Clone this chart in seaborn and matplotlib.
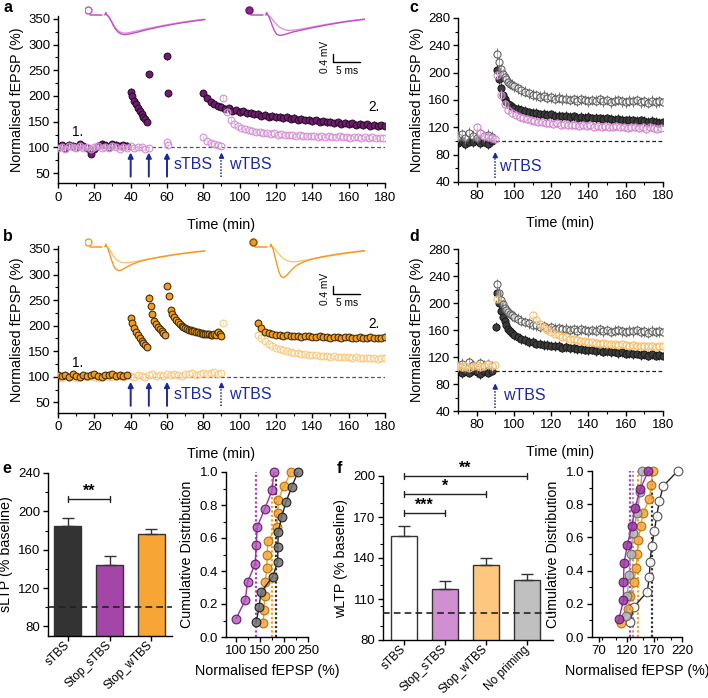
import numpy as np
import pandas as pd
import matplotlib
matplotlib.use("Agg")
import matplotlib.pyplot as plt
import seaborn as sns
from matplotlib.ticker import MultipleLocator

# ======================= DATA =======================
# ---- panel a : sTBS-primed (filled) vs Stop_sTBS (open), % of baseline ----
a_fill_base = [101, 104, 99, 105, 103, 100, 106, 102, 98, 88, 97, 103, 107, 104, 100, 106, 105, 102, 104, 103]   # 0-38 min
a_fill_post40 = [208, 200, 190, 184, 176, 170, 165, 160, 155, 150]                                                # 40-49 min
a_fill_single_t = [50, 60, 60.5]
a_fill_single = [242, 277, 205]
a_fill_late = [205, 196, 189, 185, 180, 179, 175, 176, 171, 172, 169, 170, 166, 167, 164, 165, 162, 163, 160, 162,
               159, 160, 157, 159, 156, 157, 154, 156, 153, 154, 151, 153, 150, 151, 149, 150, 147, 149, 146, 148,
               145, 147, 144, 146, 143, 145, 142, 144, 141, 143, 142]                                              # 80-180 min
a_open_base = [99, 101, 97, 102, 100, 98, 103, 99, 101, 97, 100, 102, 98, 101, 99, 103, 100, 97, 101, 99, 102, 98,
               100, 101, 97, 99]                                                                                  # 0-50 min
a_open_single_t = [60, 60.5]
a_open_single = [110, 104]
a_open_pre = [120, 112, 108, 106, 104, 103]                                                                       # 80-90 min
a_open_post = [196, 168, 154, 146, 141, 138, 135, 133, 132, 130, 129, 128, 128, 126, 127, 125, 126, 124, 125, 124,
               123, 124, 122, 123, 122, 123, 121, 122, 121, 122, 120, 121, 122, 120, 121, 119, 121, 120, 119, 120,
               118, 120, 119, 118, 119]                                                                           # 91-179 min

# ---- panel b : Stop_wTBS experiment ----
b_fill_base = [103, 101, 104, 100, 105, 102, 99, 103, 101, 104, 106, 102, 100, 104, 103, 105, 101, 104, 102, 103]
b_fill_post40 = [215, 205, 196, 188, 181, 175, 170, 166, 162, 158]
b_fill_post50 = [255, 238, 222, 210, 203, 198, 193, 189, 185, 181]
b_fill_post60 = [278, 258, 230, 222, 216, 211, 207, 203, 200, 198, 196, 194, 192, 191, 190, 189, 188, 187, 186, 185,
                 184, 184, 183, 183, 182, 182, 183, 181, 188, 184, 180]
b_fill_late = [206, 195, 188, 185, 183, 182, 181, 180, 181, 179, 180, 179, 178, 180, 179, 178, 177, 179, 178, 177,
               176, 178, 177, 176, 178, 177, 176, 175, 177, 176, 175, 177, 176, 175, 176, 177]                   # 110-180
b_open_base = [100, 98, 101, 99, 102, 97, 100, 101, 99, 102, 100, 98, 101, 103, 99, 100, 102, 101, 99, 103,
               101, 100, 104, 102, 100, 103, 105, 102, 104, 101, 105, 103, 106, 104, 102, 106, 105, 107, 104, 106,
               108, 105, 107, 109, 106, 108]                                                                      # 0-90
b_open_single_t = [91]
b_open_single = [206]
b_open_post = [182, 175, 169, 164, 160, 157, 154, 152, 150, 149, 147, 146, 145, 144, 143, 142, 142, 141, 140, 141,
               139, 140, 139, 138, 139, 138, 137, 138, 137, 136, 137, 136, 137, 135, 136, 137]                   # 110-180

# ---- panels c / d : comparison groups ----
c_fill_base = [97, 100, 96, 99, 98, 101, 97, 99, 96, 100]                                                      # 70-88
c_fill_early = [204, 190, 178, 168, 161, 157, 154, 152, 150, 149]                                              # 91-100
c_fill_late = [147, 145, 144, 142, 141, 141, 139, 140, 138, 139, 137, 137, 136, 137, 135, 136, 134, 135, 134, 135,
               133, 134, 133, 132, 133, 132, 131, 132, 131, 130, 131, 130, 129, 130, 129, 128, 129, 128, 127, 128]
c_open_base = [106, 110, 104, 112, 108, 105, 111, 107, 109, 106]
c_open_early = [228, 215, 205, 198, 193, 190, 187, 184, 182, 180]
c_open_late = [177, 174, 172, 170, 168, 167, 165, 166, 163, 164, 162, 163, 161, 162, 160, 161, 159, 161, 160, 158,
               160, 159, 161, 158, 160, 157, 159, 160, 158, 157, 159, 158, 160, 157, 158, 156, 159, 157, 158, 157]
d_fill_base = [99, 96, 100, 97, 101, 98, 95, 99, 97, 100]
d_fill_single_t = [90.5]
d_fill_single = [165]
d_fill_early = [215, 200, 188, 180, 173, 167, 162, 158, 155, 152]
d_fill_late = [149, 146, 145, 142, 142, 140, 140, 138, 138, 137, 136, 136, 134, 135, 133, 133, 132, 132, 131, 130,
               131, 129, 130, 128, 129, 127, 128, 126, 127, 125, 126, 124, 125, 123, 124, 122, 124, 122, 123, 122]

sTBS_times = [40, 50, 60]
wTBS_time = 90

# ---- panel e ----
e_groups = ["sTBS", "Stop_sTBS", "Stop_wTBS"]
e_mean = [185, 144, 176]
e_sem = [8, 9, 6]
e_colors = ["#333333", "#a445a8", "#f7a535"]
e_sig = [(0, 1, 212.8, "**")]
e_cum_sTBS = [142, 148, 152, 176, 187, 187, 188, 195, 204, 216, 229]
e_cum_stop_sTBS = [100, 119, 124, 140, 142, 144, 160, 175, 179]
e_cum_stop_wTBS = [157, 158, 160, 161, 164, 165, 166, 185, 187, 188, 200, 215]

# ---- panel f ----
f_groups = ["sTBS", "Stop_sTBS", "Stop_wTBS", "No priming"]
f_mean = [156, 117, 135, 124]
f_sem = [7.4, 5.9, 4.9, 4.3]
f_colors = ["#ffffff", "#cf8fd0", "#fec77f", "#c0c0c0"]
f_sig = [(0, 1, 173.2, "***"), (0, 2, 186.8, "*"), (0, 3, 200.2, "**")]
f_cum_sTBS = [126, 133, 157, 161, 162, 165, 170, 174, 179, 186, 212]
f_cum_stop_sTBS = [106, 114, 114, 115, 121, 129, 135, 144, 159]
f_cum_stop_wTBS = [109, 122, 126, 133, 137, 139, 141, 145, 150, 161, 164, 167]
f_cum_nopriming = [118, 121, 124, 127, 131, 139, 144, 148]

# ---- example fEPSP traces (ms after stimulus, mV) ----
trace_t = [0, 0.15, 0.3, 0.5, 0.8, 1.2, 1.6, 2.0, 2.5, 3.0, 3.5, 4.0, 4.5, 5.0, 6.0, 7.0, 8.0, 9.5, 11, 12.5,
           14, 15.5, 17, 18.5]
a_left_pre = [0, 0.12, 0.02, -0.03, -0.12, -0.3, -0.5, -0.66, -0.8, -0.87, -0.9, -0.9, -0.88, -0.85, -0.79,
              -0.73, -0.67, -0.59, -0.51, -0.44, -0.37, -0.31, -0.26, -0.21]
a_left_post = [0, 0.12, 0.02, -0.03, -0.13, -0.33, -0.55, -0.73, -0.87, -0.95, -0.98, -0.97, -0.95, -0.92, -0.86,
               -0.79, -0.72, -0.63, -0.55, -0.47, -0.4, -0.34, -0.28, -0.23]
a_right_pre = [0, 0.12, 0.02, -0.03, -0.1, -0.22, -0.36, -0.48, -0.6, -0.68, -0.73, -0.76, -0.77, -0.76, -0.73,
               -0.68, -0.63, -0.55, -0.48, -0.41, -0.35, -0.29, -0.24, -0.2]
a_right_post = [0, 0.12, 0.02, -0.05, -0.25, -0.55, -0.8, -0.96, -1.02, -1.01, -0.97, -0.93, -0.89, -0.85, -0.79,
                -0.73, -0.67, -0.59, -0.51, -0.44, -0.37, -0.31, -0.26, -0.21]
b_left_pre = [0, 0.12, 0.02, -0.03, -0.12, -0.3, -0.48, -0.62, -0.72, -0.78, -0.8, -0.8, -0.79, -0.77, -0.72,
              -0.67, -0.62, -0.55, -0.48, -0.42, -0.36, -0.31, -0.26, -0.22]
b_left_post = [0, 0.12, 0.02, -0.06, -0.3, -0.65, -0.95, -1.12, -1.2, -1.17, -1.1, -1.02, -0.95, -0.88, -0.78,
               -0.7, -0.63, -0.55, -0.48, -0.41, -0.35, -0.3, -0.25, -0.21]
b_right_pre = [0, 0.12, 0.02, -0.03, -0.1, -0.22, -0.36, -0.48, -0.6, -0.68, -0.73, -0.75, -0.75, -0.74, -0.7,
               -0.65, -0.6, -0.53, -0.46, -0.4, -0.34, -0.28, -0.23, -0.19]
b_right_post = [0, 0.12, 0.02, -0.08, -0.4, -0.85, -1.25, -1.48, -1.55, -1.45, -1.3, -1.15, -1.02, -0.92, -0.78,
                -0.68, -0.6, -0.51, -0.44, -0.37, -0.31, -0.26, -0.21, -0.17]

# ======================= STYLE =======================
sns.set_theme(style="ticks")
plt.rcParams["font.family"] = ["Liberation Sans", "DejaVu Sans"]
plt.rcParams.update({
    "axes.linewidth": 1.0, "axes.edgecolor": "black", "axes.labelcolor": "black",
    "xtick.color": "black", "ytick.color": "black", "text.color": "black",
    "xtick.major.size": 3.5, "ytick.major.size": 3.5, "xtick.minor.size": 2, "ytick.minor.size": 2,
    "xtick.major.width": 1, "ytick.major.width": 1, "xtick.minor.width": 0.8, "ytick.minor.width": 0.8,
    "xtick.labelsize": 9.5, "ytick.labelsize": 9.5, "axes.labelsize": 10.3,
    "xtick.major.pad": 2.5, "ytick.major.pad": 2,
})

W, H = 708, 698
fig = plt.figure(figsize=(W / 100, H / 100), dpi=100)
fig.patch.set_facecolor("white")


def px_axes(l, t, r, b):
    return fig.add_axes([l / W, 1 - b / H, (r - l) / W, (b - t) / H])


def seg(start, step, vals):
    return start + step * np.arange(len(vals)), np.asarray(vals, float)


def join(*segs):
    return (np.concatenate([np.asarray(s[0], float) for s in segs]),
            np.concatenate([np.asarray(s[1], float) for s in segs]))


def timecourse(ax, t, v, sem, face, edge, ecol, s, z, open_=False):
    ax.errorbar(t, v, yerr=sem, fmt="none", ecolor=ecol, elinewidth=0.7, capsize=0, zorder=z)
    sns.scatterplot(x=t, y=v, ax=ax, color=edge if open_ else face, facecolor=face, edgecolor=edge,
                    s=s, linewidth=0.75, zorder=z + 0.1, legend=False)


def finish(ax, xminor=None, yminor=None):
    sns.despine(ax=ax)
    if xminor:
        ax.xaxis.set_minor_locator(MultipleLocator(xminor))
    if yminor:
        ax.yaxis.set_minor_locator(MultipleLocator(yminor))


BLUE = "#1c2a9c"


def stim_arrows(ax, times, y0, y1, dotted=False):
    for t in times:
        if dotted:
            ax.plot([t, t], [y0, y1 - 6], ls=(0, (1, 1)), color=BLUE, lw=1.1, zorder=5)
            ax.annotate("", xy=(t, y1), xytext=(t, y1 - 7),
                        arrowprops=dict(arrowstyle="-|>", color=BLUE, lw=1.1, mutation_scale=7,
                                        shrinkA=0, shrinkB=0), zorder=5)
        else:
            ax.annotate("", xy=(t, y1), xytext=(t, y0),
                        arrowprops=dict(arrowstyle="-|>", color=BLUE, lw=1.4, mutation_scale=7.5,
                                        shrinkA=0, shrinkB=0), zorder=5)


PUR_D, PUR_L = "#6d1d6d", "#d48ad4"
ORA_D, ORA_L = "#f39b1e", "#fbc777"
S_AB, S_CD = 24, 26
LBL = dict(color=BLUE, fontsize=11.5, va="center", ha="left")

# ======================= PANEL A =======================
ax = px_axes(58, 16.4, 385, 183.3)
t, v = join(seg(0, 2, a_fill_base), seg(40, 1, a_fill_post40), (a_fill_single_t, a_fill_single),
            seg(80, 2, a_fill_late))
timecourse(ax, t, v, 7, PUR_D, "#2a0a2a", "#404040", S_AB, 2)
t, v = join(seg(0, 2, a_open_base), (a_open_single_t, a_open_single), seg(80, 2, a_open_pre),
            seg(91, 2, a_open_post))
timecourse(ax, t, v, 5, (1, 1, 1, 0.3), PUR_L, "#e3b3e3", S_AB, 3, open_=True)
ax.axhline(100, ls=(0, (3, 2)), color="#555555", lw=0.9, zorder=1)
stim_arrows(ax, sTBS_times, 43, 90)
stim_arrows(ax, [wTBS_time], 43, 90, dotted=True)
ax.text(63.5, 66, "sTBS", **LBL)
ax.text(94, 66, "wTBS", **LBL)
ax.text(11, 129, "1.", fontsize=9.8, ha="center", va="center")
ax.text(174, 179, "2.", fontsize=9.8, ha="center", va="center")
ax.set_xlim(0, 180)
ax.set_ylim(30, 355)
ax.set_xticks(range(0, 181, 20))
ax.set_yticks(range(50, 351, 50))
ax.set_xlabel("Time (min)", labelpad=10)
ax.set_ylabel("Normalised fEPSP (%)", labelpad=3)
finish(ax, 10, 25)

# ======================= PANEL B =======================
ax = px_axes(58, 246.4, 385, 412.5)
t, v = join(seg(0, 2, b_open_base), (b_open_single_t, b_open_single), seg(110, 2, b_open_post))
timecourse(ax, t, v, 5, (1, 1, 1, 0.3), ORA_L, "#fcdcae", S_AB, 2, open_=True)
t, v = join(seg(0, 2, b_fill_base), seg(40, 1, b_fill_post40), seg(50, 1, b_fill_post50),
            seg(60, 1, b_fill_post60), seg(110, 2, b_fill_late))
timecourse(ax, t, v, 6, ORA_D, "#3a2a10", "#3a3a3a", S_AB, 3)
ax.axhline(100, ls=(0, (3, 2)), color="#555555", lw=0.9, zorder=1)
stim_arrows(ax, sTBS_times, 43, 90)
stim_arrows(ax, [wTBS_time], 43, 90, dotted=True)
ax.text(63.5, 66, "sTBS", **LBL)
ax.text(94, 66, "wTBS", **LBL)
ax.text(11, 126, "1.", fontsize=9.8, ha="center", va="center")
ax.text(174, 204, "2.", fontsize=9.8, ha="center", va="center")
ax.set_xlim(0, 180)
ax.set_ylim(30, 355)
ax.set_xticks(range(0, 181, 20))
ax.set_yticks(range(50, 351, 50))
ax.set_xlabel("Time (min)", labelpad=10)
ax.set_ylabel("Normalised fEPSP (%)", labelpad=3)
finish(ax, 10, 25)

# ======================= PANEL C =======================
ax = px_axes(458, 18, 663, 182)
t, v = join(seg(70, 2, c_fill_base), seg(91, 1, c_fill_early), seg(102, 2, c_fill_late))
timecourse(ax, t, v, 7, "#3c3c3c", "#1a1a1a", "#333333", S_CD, 2)
t, v = join(seg(70, 2, c_open_base), seg(91, 1, c_open_early), seg(102, 2, c_open_late))
timecourse(ax, t, v, 8, (1, 1, 1, 0.4), "#5a5a5a", "#7a7a7a", S_CD, 3, open_=True)
t, v = join((a_open_single_t, a_open_single), seg(80, 2, a_open_pre), seg(91, 2, a_open_post))
timecourse(ax, t, v, 6, (1, 1, 1, 0.3), "#cf7fcf", "#e0a8e0", S_CD, 4, open_=True)
ax.axhline(100, ls=(0, (3, 2)), color="#222222", lw=0.9, zorder=1)
stim_arrows(ax, [wTBS_time], 46, 84, dotted=True)
ax.text(92, 62, "wTBS", **LBL)
ax.set_xlim(70, 180)
ax.set_ylim(40, 280)
ax.set_xticks(range(80, 181, 20))
ax.set_yticks(range(40, 281, 40))
ax.set_xlabel("Time (min)", labelpad=10)
ax.set_ylabel("Normalised fEPSP (%)", labelpad=3)
finish(ax, 10, 20)

# ======================= PANEL D =======================
ax = px_axes(458, 249, 663, 411)
t, v = join(seg(70, 2, d_fill_base), (d_fill_single_t, d_fill_single), seg(91, 1, d_fill_early),
            seg(102, 2, d_fill_late))
timecourse(ax, t, v, 7, "#3c3c3c", "#1a1a1a", "#333333", S_CD, 2)
t, v = join(seg(70, 2, c_open_base), seg(91, 1, c_open_early), seg(102, 2, c_open_late))
timecourse(ax, t, v, 8, (1, 1, 1, 0.4), "#5a5a5a", "#7a7a7a", S_CD, 3, open_=True)
t, v = join(seg(0, 2, b_open_base), (b_open_single_t, b_open_single), seg(110, 2, b_open_post))
timecourse(ax, t, v, 5, (1, 1, 1, 0.3), "#f9b85a", "#fcd59c", S_CD, 4, open_=True)
ax.axhline(100, ls=(0, (3, 2)), color="#222222", lw=0.9, zorder=1)
stim_arrows(ax, [wTBS_time], 45, 81, dotted=True)
ax.text(94, 63, "wTBS", **LBL)
ax.set_xlim(70, 180)
ax.set_ylim(40, 280)
ax.set_xticks(range(80, 181, 20))
ax.set_yticks(range(40, 281, 40))
ax.set_xlabel("Time (min)", labelpad=10)
ax.set_ylabel("Normalised fEPSP (%)", labelpad=3)
finish(ax, 10, 20)


# ======================= BAR PANELS =======================
def bars(ax, groups, means, sems, colors, sig, dcap, dtext):
    sns.barplot(x=groups, y=means, hue=groups, palette=colors, legend=False, ax=ax, width=0.65,
                saturation=1, edgecolor="#333333", linewidth=1.0, errorbar=None, zorder=2)
    n = len(groups)
    ax.errorbar(np.arange(n), means, yerr=[np.zeros(n), sems], fmt="none", ecolor="#333333",
                elinewidth=1.0, capsize=4, capthick=1.0, zorder=3)
    ax.axhline(100, ls=(0, (4, 2.5)), color="#222222", lw=1.2, zorder=4)
    for i, j, y, lab in sig:
        ax.plot([i, j], [y, y], color="#222222", lw=1.0, clip_on=False, zorder=5)
        for k in (i, j):
            ax.plot([k, k], [y - dcap, y + dcap], color="#222222", lw=1.0, clip_on=False, zorder=5)
        ax.text((i + j) / 2, y + dtext, lab, ha="center", va="baseline", fontsize=11.5, fontweight="bold",
                clip_on=False)
    for lab in ax.get_xticklabels():
        lab.set_rotation(45)
        lab.set_ha("right")
        lab.set_va("center")
        lab.set_rotation_mode("anchor")
        lab.set_fontsize(8.6)
    ax.tick_params(axis="x", pad=2)
    ax.set_xlabel("")


ax = px_axes(48, 473, 172, 636)
bars(ax, e_groups, e_mean, e_sem, e_colors, e_sig, 3, 3)
ax.set_xlim(-0.48, 2.5)
ax.set_ylim(70, 240)
ax.set_yticks(range(80, 241, 40))
ax.set_ylabel("sLTP (% baseline)", labelpad=4)
finish(ax, None, 20)

ax = px_axes(383, 476, 553, 640)
bars(ax, f_groups, f_mean, f_sem, f_colors, f_sig, 2.2, 2.2)
ax.set_xlim(-0.51, 3.63)
ax.set_ylim(80, 200)
ax.set_yticks(range(80, 201, 30))
ax.set_ylabel("wLTP (% baseline)", labelpad=4)
finish(ax, None, 15)


# ======================= CUMULATIVE PANELS =======================
def cum(ax, vals, line, face, edge, z, mean_col):
    vals = np.sort(np.asarray(vals, float))
    y = np.arange(1, len(vals) + 1) / len(vals)
    sns.lineplot(x=vals, y=y, ax=ax, estimator=None, sort=False, color=line, lw=1.0, marker="o",
                 markersize=6.3, markerfacecolor=face, markeredgecolor=edge, markeredgewidth=0.8,
                 zorder=z, clip_on=False, legend=False)
    ax.vlines(np.mean(vals), 0, 1, linestyles=(0, (1, 1)), colors=mean_col, lw=1.6, zorder=1)


ax = px_axes(226, 472, 308, 637)
cum(ax, e_cum_stop_sTBS, "#9a30a0", (0.69, 0.35, 0.72, 0.8), "#6a1a70", 3, "#b040b8")
cum(ax, e_cum_stop_wTBS, "#f5a020", (0.97, 0.66, 0.22, 0.85), "#b87010", 4, "#f5a020")
cum(ax, e_cum_sTBS, "#222222", (0.45, 0.45, 0.45, 0.85), "#222222", 5, "#333333")
ax.set_xlim(79, 250)
ax.set_ylim(0, 1)
ax.set_xticks([100, 150, 200, 250])
ax.set_yticks(np.arange(0, 1.01, 0.2))
ax.yaxis.set_major_formatter(matplotlib.ticker.FormatStrFormatter("%.1f"))
ax.set_xlabel("Normalised fEPSP (%)", labelpad=5)
ax.set_ylabel("Cumulative Distribution", labelpad=4)
finish(ax, 25, 0.1)

ax = px_axes(592, 471, 682, 637)
cum(ax, f_cum_sTBS, "#222222", (1, 1, 1, 0.9), "#555555", 2, "#333333")
cum(ax, f_cum_stop_wTBS, "#f5a020", (0.97, 0.66, 0.22, 0.85), "#b87010", 3, "#f5a020")
cum(ax, f_cum_nopriming, "#a0a0a0", (0.7, 0.7, 0.7, 0.85), "#707070", 4, "#a0a0a0")
cum(ax, f_cum_stop_sTBS, "#9a30a0", (0.6, 0.23, 0.63, 0.85), "#6a1a70", 5, "#b040b8")
ax.set_xlim(57, 220)
ax.set_ylim(0, 1)
ax.set_xticks([70, 120, 170, 220])
ax.set_yticks(np.arange(0, 1.01, 0.2))
ax.yaxis.set_major_formatter(matplotlib.ticker.FormatStrFormatter("%.1f"))
ax.set_xlabel("Normalised fEPSP (%)", labelpad=5)
ax.set_ylabel("Cumulative Distribution", labelpad=4)
finish(ax, 25, 0.1)


# ======================= TRACE INSETS =======================
def traces(top, right_off, pre_l, post_l, pre_r, post_r, cols, mark_open, mark_fill):
    ax = px_axes(85, top, 365, top + 78)
    ax.set_xlim(0, 280 / 5.4)
    ax.set_ylim(-3.25, 0.65)
    ax.set_axis_off()
    tt = np.asarray(trace_t)
    for off, pre, post, mk in ((3.7, pre_l, post_l, mark_open), (right_off, pre_r, post_r, mark_fill)):
        ax.plot([off - 2.78, off - 0.56], [0, 0], color=cols[1], lw=1.1)
        ax.plot(tt + off, pre, color=cols[0], lw=1.0)
        ax.plot(tt + off, post, color=cols[1], lw=1.0)
        ax.plot([off - 3.15], [0.25], marker="o", ms=5, mfc=mk[0], mec=mk[1], mew=1.1)
    # scale bar 0.4 mV / 5 ms
    ax.plot([45.9, 45.9, 50.9], [-1.95, -2.35, -2.35], color="black", lw=1.0)
    ax.text(44.5, -2.12, "0.4 mV", rotation=90, fontsize=7.3, ha="center", va="center")
    ax.text(48.6, -2.82, "5 ms", fontsize=7.3, ha="center", va="center")


traces(2, 33.5, a_left_pre, a_left_post, a_right_pre, a_right_post, ("#dc95dc", "#c24fc2"),
       ("white", "#c060c0"), ("#8a2a8a", "#6a1a6a"))
traces(233.7, 34.3, b_left_pre, b_left_post, b_right_pre, b_right_post, ("#f9c67c", "#f29a1e"),
       ("white", "#f5a030"), ("#f39b1e", "#8a5a10"))

# ======================= PANEL LETTERS =======================
for lab, x, y in (("a", 3, 0), ("b", 3, 229), ("c", 409, 0), ("d", 409, 229), ("e", 2, 461), ("f", 337, 461)):
    fig.text(x / W, 1 - y / H, lab, fontsize=11.5, fontweight="bold", ha="left", va="top")

fig.savefig("out.png", dpi=100, facecolor="white")
